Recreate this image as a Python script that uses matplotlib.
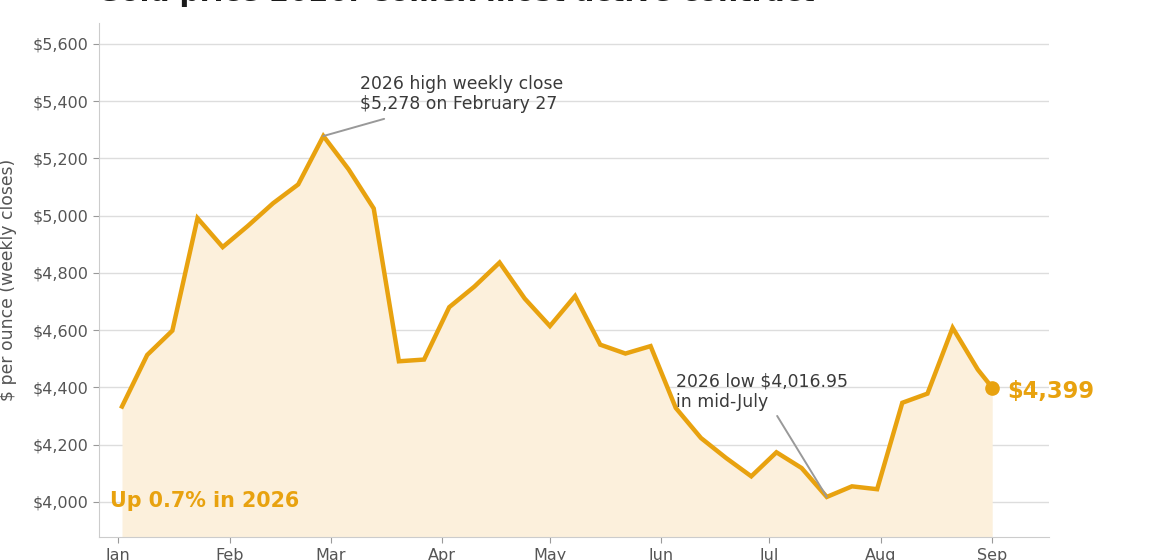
import matplotlib
matplotlib.use("Agg")
import matplotlib.pyplot as plt
import matplotlib.dates as mdates
import numpy as np
import datetime as dt

plt.rcParams["font.family"] = ["DejaVu Sans"]

# ---- data ----
dates = ["2026-01-02", "2026-01-09", "2026-01-16", "2026-01-23", "2026-01-30",
         "2026-02-06", "2026-02-13", "2026-02-20", "2026-02-27",
         "2026-03-06", "2026-03-13", "2026-03-20", "2026-03-27",
         "2026-04-03", "2026-04-10", "2026-04-17", "2026-04-24",
         "2026-05-01", "2026-05-08", "2026-05-15", "2026-05-22", "2026-05-29",
         "2026-06-05", "2026-06-12", "2026-06-19", "2026-06-26",
         "2026-07-03", "2026-07-10", "2026-07-17", "2026-07-24", "2026-07-31",
         "2026-08-07", "2026-08-14", "2026-08-21", "2026-08-28", "2026-09-01"]
prices = [4333, 4513, 4598, 4991, 4890,
          4964, 5043, 5109, 5278,
          5162, 5025, 4491, 4497,
          4680, 4752, 4836, 4710,
          4614, 4719, 4549, 4518, 4544,
          4328, 4223, 4153, 4089,
          4173, 4118, 4016.95, 4054, 4044,
          4346, 4378, 4608, 4462, 4399]
month_ticks = ["2026-01-01", "2026-02-01", "2026-03-01", "2026-04-01", "2026-05-01",
               "2026-06-01", "2026-07-01", "2026-08-01", "2026-09-01"]
month_labels = ["Jan", "Feb", "Mar", "Apr", "May", "Jun", "Jul", "Aug", "Sep"]
y_ticks = [4000, 4200, 4400, 4600, 4800, 5000, 5200, 5400, 5600]

title = "Gold price 2026: Comex most active contract"
ylabel = "$ per ounce (weekly closes)"
high_note = "2026 high weekly close\n$5,278 on February 27"
low_note = "2026 low $4,016.95\nin mid-July"
ytd_note = "Up 0.7% in 2026"
last_label = "$4,399"

# ---- style ----
GOLD = "#E8A20F"
FILL = "#FCF0DC"
GREY_TXT = "#555555"

x = mdates.date2num([dt.date.fromisoformat(d) for d in dates])
y = np.array(prices)
xt = mdates.date2num([dt.date.fromisoformat(d) for d in month_ticks])

fig = plt.figure(figsize=(11.6, 5.6), dpi=100)
ax = fig.add_axes([99/1160, 1 - 537/560, (1049 - 99)/1160, (537 - 23)/560])

ymin, ymax = 3877, 5673
jan1 = xt[0]
ax.set_xlim(jan1 - 5.4, jan1 + 258.8)
ax.set_ylim(ymin, ymax)

ax.fill_between(x, y, ymin, color=FILL, lw=0, zorder=1)
ax.plot(x, y, color=GOLD, lw=3.2, solid_joinstyle="miter", zorder=3)
ax.plot(x[-1:], y[-1:], "o", color=GOLD, ms=9.5, zorder=4)

ax.set_yticks(y_ticks)
ax.set_yticklabels([f"${v:,.0f}" for v in y_ticks])
ax.set_xticks(xt)
ax.set_xticklabels(month_labels)
ax.grid(axis="y", color="#dddddd", lw=1, zorder=0)
ax.set_axisbelow(True)
for s in ["top", "right"]:
    ax.spines[s].set_visible(False)
for s in ["left", "bottom"]:
    ax.spines[s].set_color("#cccccc")
ax.tick_params(axis="both", colors="#999999", labelcolor=GREY_TXT,
               labelsize=11.5, length=4)
ax.tick_params(axis="x", pad=4)
ax.set_ylabel(ylabel, fontsize=12.4, color=GREY_TXT)
ax.yaxis.set_label_coords(-0.086, 0.5)

# annotations
ipk = int(np.argmax(y))
imn = int(np.argmin(y))
ax.annotate("", xy=(x[ipk], y[ipk]), xytext=(jan1 + 73.9, 5338),
            arrowprops=dict(arrowstyle="-", color="#999999", lw=1.4,
                            shrinkA=0, shrinkB=0), zorder=5)
ax.text(jan1 + 67.2, 5490, high_note, fontsize=12.4, color="#3a3a3a",
        va="top", ha="left", linespacing=1.15, zorder=5)
ax.annotate("", xy=(x[imn], y[imn]), xytext=(jan1 + 183.2, 4300),
            arrowprops=dict(arrowstyle="-", color="#999999", lw=1.4,
                            shrinkA=0, shrinkB=0), zorder=5)
ax.text(jan1 + 155.1, 4452, low_note, fontsize=12.4, color="#3a3a3a",
        va="top", ha="left", linespacing=1.15, zorder=5)

ax.text(jan1 - 2.4, 4003, ytd_note, fontsize=14.9, fontweight="bold",
        color=GOLD, va="center", ha="left", zorder=5)
ax.annotate(last_label, xy=(x[-1], y[-1]), xytext=(15, -4),
            textcoords="offset pixels", fontsize=16.3, fontweight="bold",
            color=GOLD, va="center", ha="left", zorder=5)

fig.text(97/1160, 1 - 1/560, title, fontsize=20.3, fontweight="bold",
         color="#1a1a1a", va="baseline", ha="left")

fig.savefig("out.png", dpi=100)
